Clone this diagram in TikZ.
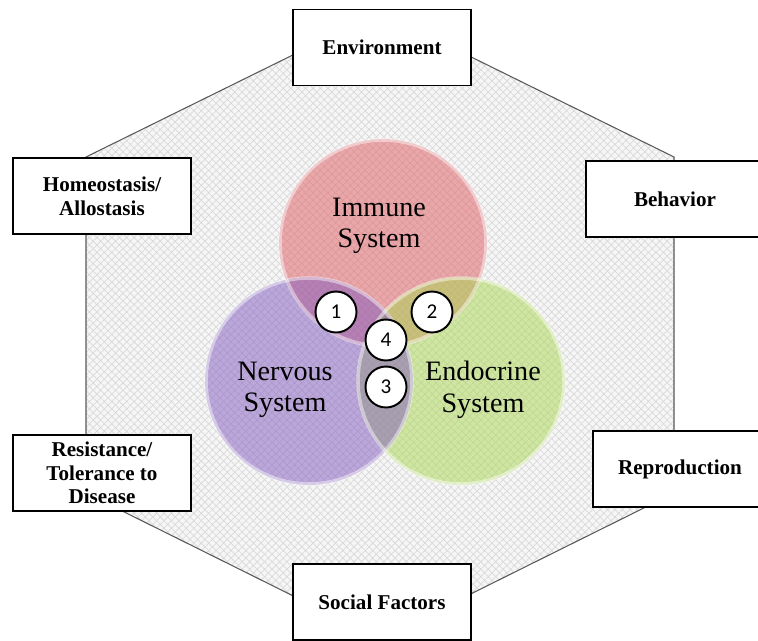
\documentclass[tikz,border=0pt]{standalone}
\usepackage{fontspec}
\setmainfont{Liberation Serif}[BoldFont={Liberation Serif Bold}]
\newfontfamily\numfont{Carlito}
\usepackage{tikz}
\usetikzlibrary{patterns.meta}
\usepackage{xcolor}

\definecolor{immunecol}{RGB}{224,90,96}
\definecolor{nervouscol}{RGB}{130,90,190}
\definecolor{endocol}{RGB}{170,216,80}
\definecolor{hexfill}{RGB}{246,246,246}

\begin{document}
\begin{tikzpicture}[x=0.02cm, y=-0.02cm,
  factor/.style={draw, line width=1.1pt, fill=white, minimum width=3.56cm, minimum height=1.52cm, inner sep=1pt, align=center, font=\fontsize{12}{13.5}\selectfont\bfseries},
  system/.style={circle, minimum size=4.16cm, inner sep=0pt, fill opacity=0.5},
  rim/.style={white, opacity=0.45, line width=2pt},
  syslabel/.style={align=center, font=\fontsize{16}{18}\selectfont},
  badge/.style={circle, draw, line width=1.1pt, fill=white, minimum size=0.82cm, inner sep=0pt, font=\numfont\fontsize{12}{12}\selectfont}]
\useasboundingbox (0,0) rectangle (758,640);

% Hexagon
\coordinate (h1) at (380,12);
\coordinate (h2) at (674,157);
\coordinate (h3) at (674,493);
\coordinate (h4) at (380,639);
\coordinate (h5) at (86,493);
\coordinate (h6) at (86,157);
\fill[hexfill] (h1) -- (h2) -- (h3) -- (h4) -- (h5) -- (h6) -- cycle;
\fill[pattern={Hatch[angle=45,distance=3pt,line width=0.4pt]}, pattern color=gray!30] (h1) -- (h2) -- (h3) -- (h4) -- (h5) -- (h6) -- cycle;
\draw[gray!70!black, line width=0.6pt] (h1) -- (h2) -- (h3) -- (h4) -- (h5) -- (h6) -- cycle;

% Systems
\node[system, fill=immunecol] (immune) at (383,243) {};
\node[system, fill=endocol] (endo) at (461,381) {};
\node[system, fill=nervouscol] (nervous) at (309,381) {};
\draw[rim] (immune.center) circle [radius=103];
\draw[rim] (nervous.center) circle [radius=103];
\draw[rim] (endo.center) circle [radius=103];
\node[syslabel] (immunetxt) at (379,226) {Immune\\System};
\node[syslabel] (nervoustxt) at (285,390) {Nervous\\System};
\node[syslabel] (endotxt) at (483,390) {Endocrine\\System};

% Overlaps
\node[badge] (b1) at (336,312) {1};
\node[badge] (b2) at (432,312) {2};
\node[badge] (b4) at (386,340) {4};
\node[badge] (b3) at (386,387) {3};

% Factors
\node[factor] (env) at (382,47.5) {Environment};
\node[factor] (behav) at (675,199) {Behavior};
\node[factor, minimum width=3.48cm] (repro) at (680,469) {Reproduction};
\node[factor] (social) at (382,602) {Social Factors};
\node[factor] (resist) at (102,473) {Resistance/\\Tolerance to\\Disease};
\node[factor] (homeo) at (102,196) {Homeostasis/\\Allostasis};
\end{tikzpicture}
\end{document}
